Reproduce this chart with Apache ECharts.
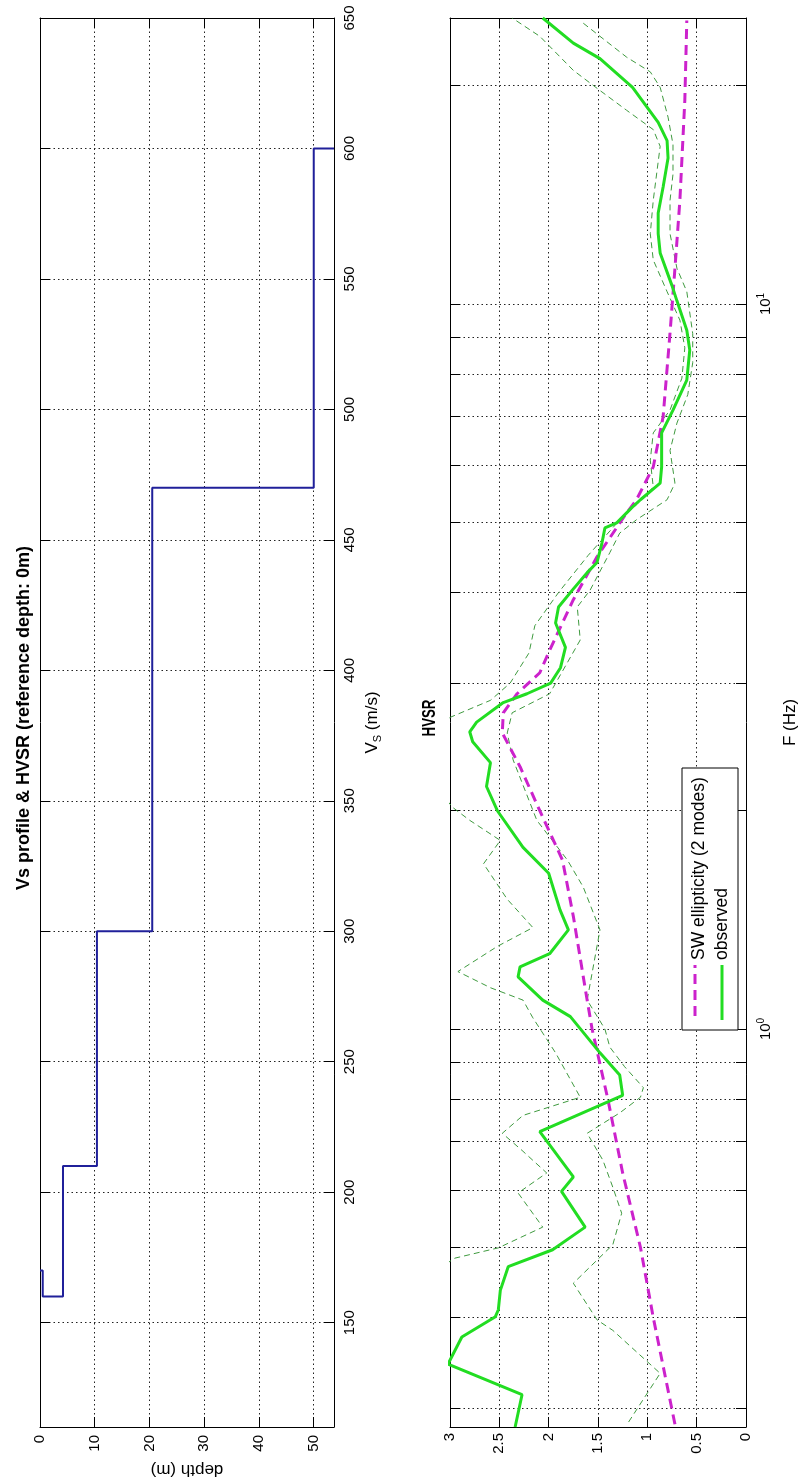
<!DOCTYPE html>
<html><head><meta charset="utf-8">
<script src="https://cdn.jsdelivr.net/npm/echarts@6/dist/echarts.min.js"></script>
<style>html,body{margin:0;padding:0;background:#fff}#c{width:800px;height:1483px}</style>
</head><body><div id="c"></div>
<script>
// ---------- Vs profile ----------
const layerVs = [170, 160, 210, 300, 470, 600];
const layerBottomDepth = [0.5, 4.2, 10.4, 20.5, 50];   // last layer is a half-space
const depthTicks = [0, 10, 20, 30, 40, 50];
const vsTicks = [150, 200, 250, 300, 350, 400, 450, 500, 550, 600, 650];

// ---------- HVSR ----------
const hvTicks = [0, 0.5, 1, 1.5, 2, 2.5, 3];
const fTicks = [0.3, 0.4, 0.5, 0.6, 0.7, 0.8, 0.9, 1, 2, 3, 4, 5, 6, 7, 8, 9, 10, 20];
const fLabelTicks = [1, 10];

const obsF  = [0.2825,0.313,0.345,0.376,0.401,0.41,0.436,0.47,0.496,0.533,0.597,0.625,0.722,0.81,0.864,0.927,1.04,1.096,1.18,1.218,1.27,1.37,1.46,1.64,1.78,2.0,2.16,2.33,2.49,2.57,2.65,2.82,2.9,3.0,3.15,3.36,3.63,3.82,4.03,4.26,4.4,4.68,4.91,4.99,5.25,5.37,5.66,5.96,6.64,7.14,7.85,8.64,9.2,10.1,10.6,11.76,12.5,13.35,14.5,15.9,16.8,17.8,19.9,21.8,22.9,24.8];
const obsHV = [2.34,2.27,3.02,2.88,2.54,2.51,2.49,2.41,1.96,1.63,1.87,1.75,2.09,1.25,1.28,1.48,1.78,2.06,2.31,2.29,1.99,1.80,1.885,2.0,2.26,2.52,2.63,2.59,2.77,2.80,2.73,2.46,2.22,1.98,1.88,1.83,1.93,1.90,1.76,1.61,1.51,1.46,1.43,1.31,1.15,1.07,0.87,0.855,0.855,0.74,0.60,0.57,0.60,0.70,0.75,0.87,0.89,0.89,0.84,0.79,0.80,0.89,1.15,1.48,1.75,2.06];

const upF  = [0.2825,0.45,0.483,0.499,0.533,0.594,0.633,0.68,0.718,0.76,0.805,0.927,1.036,1.096,1.14,1.2,1.3,1.38,1.51,1.69,1.82,1.94,2.02,2.2,2.5,2.69,2.84,3.0,3.3,3.6,4.0,4.5,5.0,5.3,5.59,6.09,6.64,7.14,7.9,8.7,9.5,10.4,11.5,12.5,13.9,16.5,17.4,18.5,19.7,21.0,23.4,24.8];
const upHV = [3.6,3.3,2.95,2.51,2.06,2.31,2.02,2.27,2.47,2.26,1.68,1.93,2.16,2.26,2.59,2.92,2.52,2.16,2.42,2.66,2.49,2.80,2.97,3.2,3.3,3.0,2.59,2.39,2.2,2.14,1.9,1.6,1.3,1.1,0.94,0.97,0.94,0.77,0.65,0.62,0.67,0.80,0.94,0.97,0.94,0.87,0.94,1.21,1.48,1.75,2.09,2.37];

const loF  = [0.287,0.335,0.384,0.397,0.446,0.504,0.557,0.605,0.659,0.718,0.766,0.805,0.83,0.887,0.944,1.0,1.096,1.37,1.57,1.71,1.94,2.35,2.56,2.73,2.9,3.44,3.82,4.03,4.54,4.83,5.04,5.37,5.66,6.28,6.85,7.5,8.3,9.1,10.4,11.2,12.5,13.9,15.1,16.6,18.1,19.9,20.9,21.9,23.0,24.4];
const loHV = [1.19,0.87,1.35,1.51,1.75,1.35,1.26,1.35,1.45,1.61,1.28,1.07,1.04,1.23,1.38,1.43,1.61,1.48,1.65,1.81,2.12,2.36,2.42,2.37,1.99,1.68,1.71,1.58,1.38,1.28,1.11,0.80,0.72,0.77,0.70,0.59,0.54,0.54,0.60,0.70,0.77,0.77,0.74,0.74,0.79,0.87,0.97,1.21,1.41,1.65];

const swF  = [0.285,0.40,0.5,0.633,0.8,1.0,1.096,1.43,1.71,2.0,2.3,2.56,2.73,2.9,3.1,3.33,3.91,4.48,5.15,5.37,5.96,6.99,9.12,11.2,13.9,19.1,24.6];
const swHV = [0.72,0.94,1.07,1.25,1.40,1.56,1.61,1.75,1.86,2.09,2.29,2.47,2.46,2.32,2.09,1.99,1.75,1.51,1.21,1.11,0.94,0.84,0.77,0.72,0.67,0.62,0.60];

// ---------- build ----------
const DEPTH_MAX = 53.7, VS_MIN = 110, VS_MAX = 650;
const F_MIN = 0.2825, F_MAX = 24.8;
const L = Math.log10;

const profile = [[0, layerVs[0]]];
layerBottomDepth.forEach((d, i) => { profile.push([d, layerVs[i]]); profile.push([d, layerVs[i + 1]]); });
profile.push([DEPTH_MAX, layerVs[layerVs.length - 1]]);

const hvData = (F, HV) => F.map((f, i) => [HV[i], L(f)]);

const FONT = 'Liberation Sans, Arial, Helvetica, sans-serif';
const gridLine = { show: true, lineStyle: { color: '#222', width: 1, type: [1.5, 3] } };
const tick = (vals) => Object.assign({ show: true, inside: true, length: 10, lineStyle: { color: '#000', width: 1 } }, vals ? { customValues: vals } : {});
const line = { show: true, onZero: false, lineStyle: { color: '#000', width: 1 } };
const lbl = { color: '#000', fontSize: 15, fontFamily: FONT, rotate: 90, margin: 6 };
const nameStyle = { color: '#000', fontSize: 17, fontFamily: FONT };

const option = {
  animation: false,
  backgroundColor: '#fff',
  textStyle: { fontFamily: FONT },
  grid: [
    { left: 40, top: 18, width: 294, height: 1409 },
    { left: 450, top: 18, width: 296, height: 1409 }
  ],
  xAxis: [
    { gridIndex: 0, type: 'value', position: 'bottom', min: 0, max: DEPTH_MAX, interval: 10,
      axisLine: line, axisTick: tick(depthTicks), splitLine: gridLine,
      axisLabel: Object.assign({}, lbl, { customValues: depthTicks, margin: 8 }),
      name: 'depth (m)', nameLocation: 'middle', nameGap: 34, nameRotate: 180,
      nameTextStyle: nameStyle },
    { gridIndex: 0, type: 'value', position: 'top', min: 0, max: DEPTH_MAX, interval: 10,
      axisLine: line, axisTick: tick(depthTicks), splitLine: { show: false }, axisLabel: { show: false } },
    { gridIndex: 1, type: 'value', position: 'bottom', min: 0, max: 3, interval: 0.5, inverse: true,
      axisLine: line, axisTick: tick(), splitLine: gridLine, axisLabel: lbl },
    { gridIndex: 1, type: 'value', position: 'top', min: 0, max: 3, interval: 0.5, inverse: true,
      axisLine: line, axisTick: tick(), splitLine: { show: false }, axisLabel: { show: false } }
  ],
  yAxis: [
    { gridIndex: 0, type: 'value', position: 'right', min: VS_MIN, max: VS_MAX,
      axisLine: line, axisTick: tick(vsTicks), splitLine: gridLine,
      axisLabel: Object.assign({}, lbl, { customValues: vsTicks, margin: 8 }),
      name: 'V{sub|S} (m/s)', nameLocation: 'middle', nameGap: 28, nameRotate: 90,
      nameTextStyle: Object.assign({}, nameStyle,
        { rich: { sub: { fontSize: 11, fontFamily: FONT, color: '#000', padding: [10, 0, 0, 0] } } }) },
    { gridIndex: 0, type: 'value', position: 'left', min: VS_MIN, max: VS_MAX,
      axisLine: line, axisTick: tick(vsTicks), splitLine: { show: false }, axisLabel: { show: false } },
    { gridIndex: 1, type: 'value', position: 'right', min: L(F_MIN), max: L(F_MAX),
      axisLine: line, axisTick: tick(fTicks.map(L)), splitLine: gridLine,
      axisLabel: Object.assign({}, lbl, { customValues: fLabelTicks.map(L), margin: 10,
        formatter: v => '10{sup|' + Math.round(v) + '}',
        rich: { sup: { fontSize: 10, fontFamily: FONT, color: '#000', padding: [0, 0, 10, 0] } } }),
      name: 'F (Hz)', nameLocation: 'middle', nameGap: 36, nameRotate: 90,
      nameTextStyle: nameStyle },
    { gridIndex: 1, type: 'value', position: 'left', min: L(F_MIN), max: L(F_MAX),
      axisLine: line, axisTick: tick(fTicks.map(L)), splitLine: { show: false }, axisLabel: { show: false } }
  ],
  series: [
    { type: 'line', xAxisIndex: 0, yAxisIndex: 0, data: profile, symbol: 'none',
      lineStyle: { color: '#20209a', width: 2 } },
    { type: 'line', name: 'upper', xAxisIndex: 2, yAxisIndex: 2, data: hvData(upF, upHV), symbol: 'none',
      lineStyle: { color: '#3f9a3f', width: 1, type: [6, 4] } },
    { type: 'line', name: 'lower', xAxisIndex: 2, yAxisIndex: 2, data: hvData(loF, loHV), symbol: 'none',
      lineStyle: { color: '#3f9a3f', width: 1, type: [6, 4] } },
    { type: 'line', name: 'SW ellipticity (2 modes)', xAxisIndex: 2, yAxisIndex: 2, data: hvData(swF, swHV), symbol: 'none',
      lineStyle: { color: '#cc22cc', width: 3, type: [10, 6] } },
    { type: 'line', name: 'observed', xAxisIndex: 2, yAxisIndex: 2, data: hvData(obsF, obsHV), symbol: 'none',
      lineStyle: { color: '#22dd22', width: 3 } }
  ],
  graphic: [
    { type: 'text', x: 24, y: 718, rotation: Math.PI / 2, z: 100,
      style: { text: 'Vs profile & HVSR (reference depth: 0m)', fontSize: 18, fontWeight: 'bold', fontFamily: FONT,
        fill: '#000', align: 'center', verticalAlign: 'middle', textAlign: 'center', textVerticalAlign: 'middle' } },
    { type: 'text', x: 430, y: 718, rotation: Math.PI / 2, scaleX: 0.7, z: 100,
      style: { text: 'HVSR', fontSize: 19, fontWeight: 'bold', fontFamily: FONT,
        fill: '#000', align: 'center', verticalAlign: 'middle', textAlign: 'center', textVerticalAlign: 'middle' } },
    { type: 'rect', z: 100, shape: { x: 682, y: 768, width: 56, height: 262 },
      style: { fill: '#fff', stroke: '#000', lineWidth: 1 } },
    { type: 'line', z: 101, shape: { x1: 695, y1: 1016, x2: 695, y2: 965 },
      style: { stroke: '#cc22cc', lineWidth: 3, lineDash: [10, 6] } },
    { type: 'text', x: 699, y: 960, rotation: Math.PI / 2, z: 101,
      style: { text: 'SW ellipticity (2 modes)', fontSize: 17.5, fontFamily: FONT, fill: '#000',
        align: 'left', verticalAlign: 'middle', textAlign: 'left', textVerticalAlign: 'middle' } },
    { type: 'line', z: 101, shape: { x1: 722, y1: 1020, x2: 722, y2: 965 },
      style: { stroke: '#22dd22', lineWidth: 3 } },
    { type: 'text', x: 722, y: 960, rotation: Math.PI / 2, z: 101,
      style: { text: 'observed', fontSize: 17.5, fontFamily: FONT, fill: '#000',
        align: 'left', verticalAlign: 'middle', textAlign: 'left', textVerticalAlign: 'middle' } }
  ]
};

const chart = echarts.init(document.getElementById('c'), null, { renderer: 'canvas' });
chart.setOption(option);
</script>
</body></html>
